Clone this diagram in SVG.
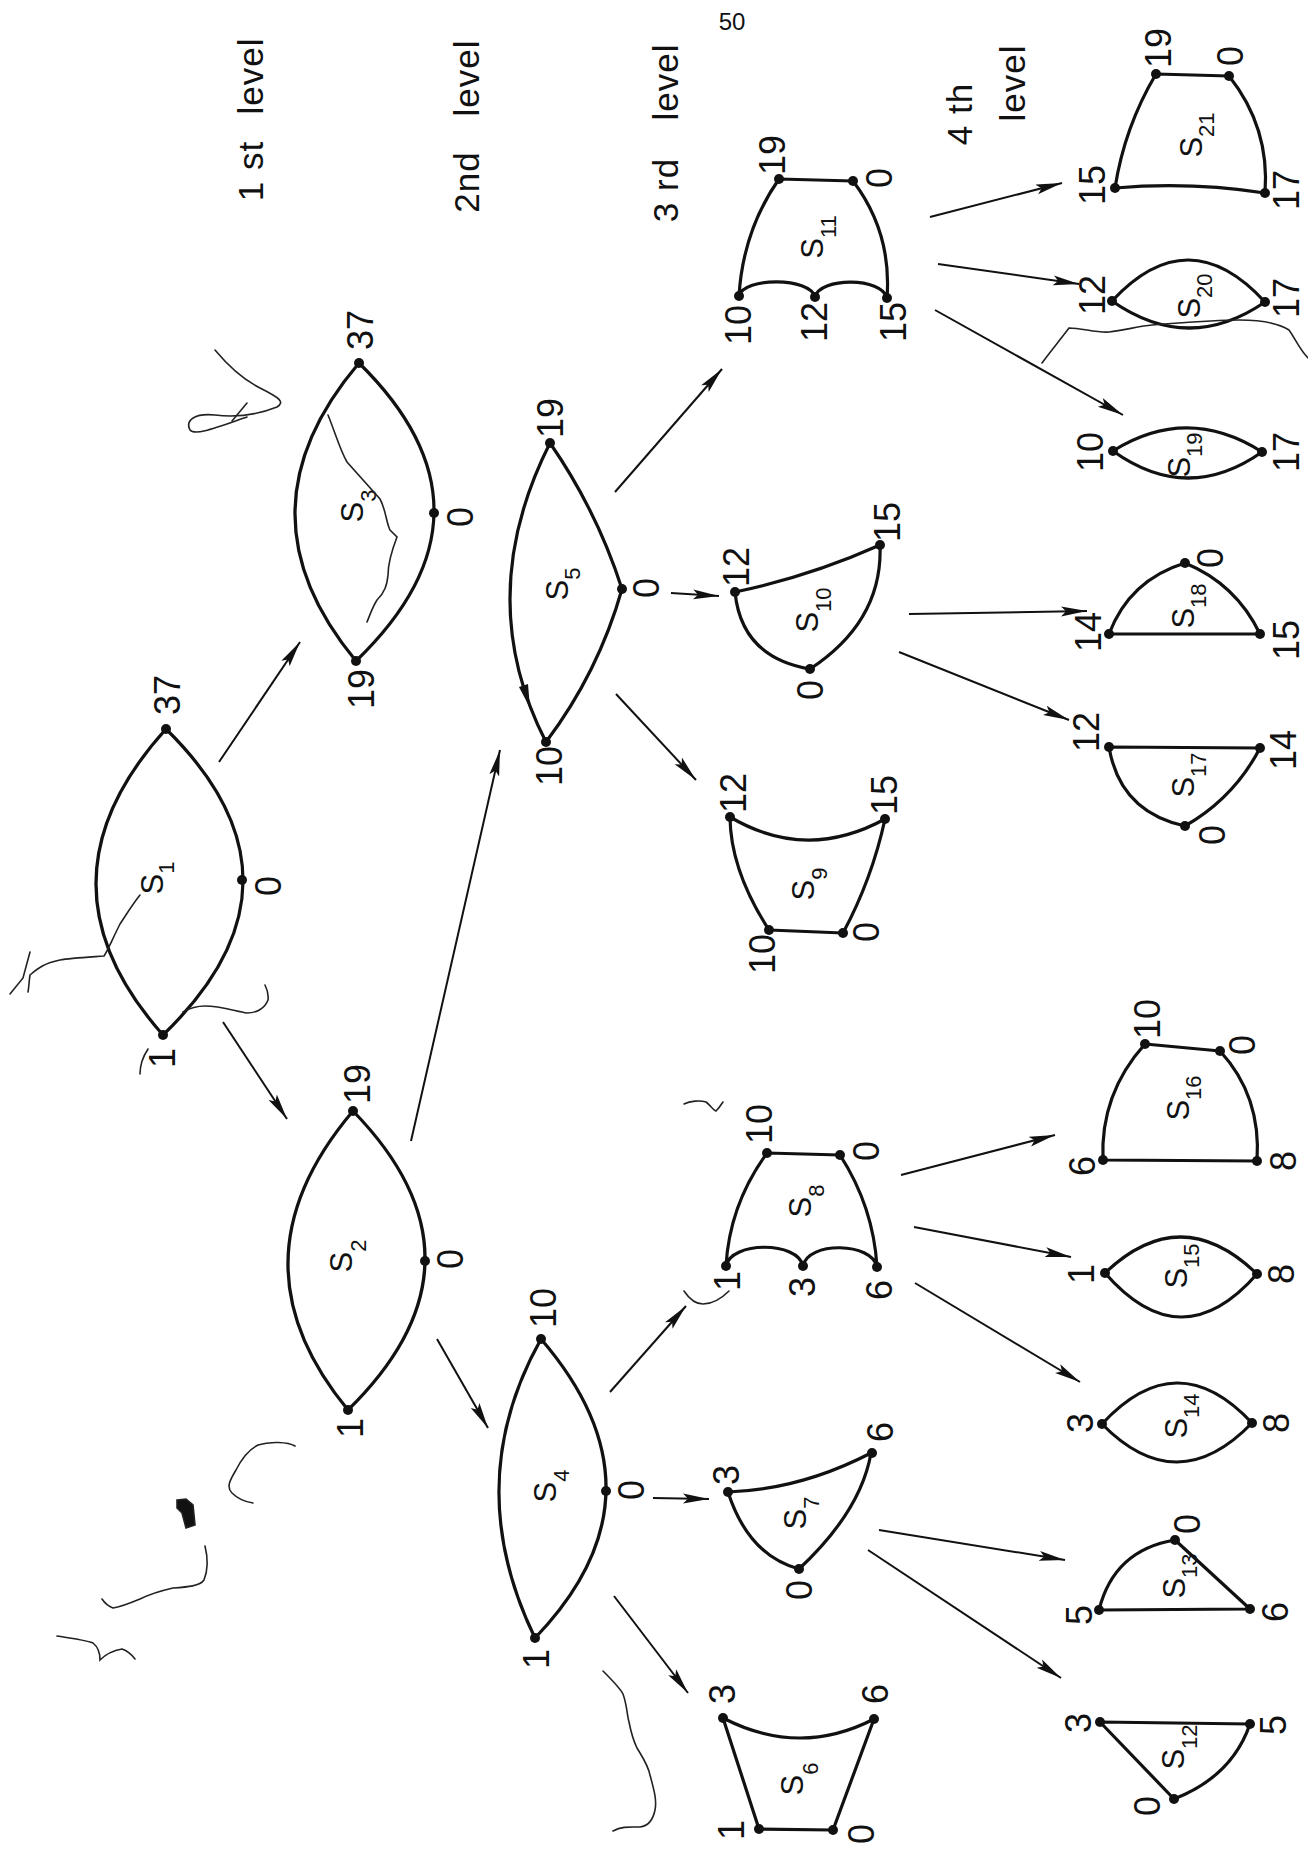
<svg xmlns="http://www.w3.org/2000/svg" width="1308" height="1849" viewBox="0 0 1308 1849">
<style>
.e{fill:none;stroke:#111;stroke-width:3.2;stroke-linejoin:round;stroke-linecap:round}
.v{fill:#111}
.c line{stroke:#111;stroke-width:2}
text{font-family:"Liberation Sans",Arial,sans-serif;fill:#111}
.n{font-size:36px;text-anchor:middle}
.s{font-size:31px;text-anchor:middle}
.s tspan{font-size:22px}
.lv{font-size:35px;text-anchor:middle;letter-spacing:1px}
.m{fill:none;stroke:#222;stroke-width:1.6;stroke-linecap:round}
</style>
<defs>
<marker id="arr" markerUnits="userSpaceOnUse" markerWidth="28" markerHeight="12" refX="26" refY="6" orient="auto">
<path d="M0,1 L26,6 L0,11 L5,6 Z" fill="#111"/>
</marker>
</defs>
<rect width="1308" height="1849" fill="#fff"/>

<!-- page number and level headings -->
<text x="732" y="30" font-size="24" text-anchor="middle">50</text>
<g id="levels">
<text class="lv" transform="translate(263,171) rotate(-90)">1 st</text>
<text class="lv" transform="translate(263,76) rotate(-90)">level</text>
<text class="lv" transform="translate(479,182) rotate(-90)">2nd</text>
<text class="lv" transform="translate(479,78) rotate(-90)">level</text>
<text class="lv" transform="translate(678,190) rotate(-90)">3 rd</text>
<text class="lv" transform="translate(678,82) rotate(-90)">level</text>
<text class="lv" transform="translate(972,114) rotate(-90)">4 th</text>
<text class="lv" transform="translate(1025,83) rotate(-90)">level</text>
</g>

<!-- connectors -->
<g id="connectors" class="c">
<line x1="219" y1="762" x2="300" y2="642" marker-end="url(#arr)"/>
<line x1="223" y1="1022" x2="287" y2="1119" marker-end="url(#arr)"/>
<line x1="411" y1="1141" x2="500" y2="750" marker-end="url(#arr)"/>
<line x1="437" y1="1339" x2="488" y2="1428" marker-end="url(#arr)"/>
<line x1="615" y1="492" x2="722" y2="369" marker-end="url(#arr)"/>
<line x1="671" y1="593" x2="719" y2="596" marker-end="url(#arr)"/>
<line x1="616" y1="694" x2="696" y2="780" marker-end="url(#arr)"/>
<line x1="610" y1="1392" x2="686" y2="1306" marker-end="url(#arr)"/>
<line x1="653" y1="1498" x2="709" y2="1499" marker-end="url(#arr)"/>
<line x1="614" y1="1596" x2="688" y2="1693" marker-end="url(#arr)"/>
<line x1="930" y1="217" x2="1062" y2="183" marker-end="url(#arr)"/>
<line x1="938" y1="264" x2="1079" y2="284" marker-end="url(#arr)"/>
<line x1="935" y1="310" x2="1123" y2="415" marker-end="url(#arr)"/>
<line x1="909" y1="614" x2="1087" y2="611" marker-end="url(#arr)"/>
<line x1="899" y1="652" x2="1069" y2="720" marker-end="url(#arr)"/>
<line x1="901" y1="1175" x2="1055" y2="1135" marker-end="url(#arr)"/>
<line x1="914" y1="1227" x2="1071" y2="1257" marker-end="url(#arr)"/>
<line x1="915" y1="1283" x2="1080" y2="1382" marker-end="url(#arr)"/>
<line x1="879" y1="1530" x2="1065" y2="1560" marker-end="url(#arr)"/>
<line x1="868" y1="1550" x2="1061" y2="1678" marker-end="url(#arr)"/>
</g>

<!-- first level -->
<g id="S1">
<path class="e" d="M166,729 Q27.5,882 163,1035 Q321.5,882 166,729 Z"/>
<circle class="v" cx="166" cy="729" r="5"/><circle class="v" cx="242" cy="880" r="5"/><circle class="v" cx="163" cy="1035" r="5"/>
<text class="n" transform="translate(180,695) rotate(-90)">37</text>
<text class="n" transform="translate(281,886) rotate(-90)">0</text>
<text class="n" transform="translate(175,1058) rotate(-90)">1</text>
<text class="s" transform="translate(163,878) rotate(-90)">S<tspan dy="11">1</tspan></text>
</g>

<!-- second level -->
<g id="S2">
<path class="e" d="M353,1111 Q225.5,1261.5 348,1410 Q499.5,1261.5 353,1111 Z"/>
<circle class="v" cx="353" cy="1111" r="5"/><circle class="v" cx="425" cy="1261" r="5"/><circle class="v" cx="348" cy="1410" r="5"/>
<text class="n" transform="translate(370,1084) rotate(-90)">19</text>
<text class="n" transform="translate(463,1259) rotate(-90)">0</text>
<text class="n" transform="translate(363,1428) rotate(-90)">1</text>
<text class="s" transform="translate(352,1256) rotate(-90)">S<tspan dy="14">2</tspan></text>
</g>
<g id="S3">
<path class="e" d="M359,363 Q232.5,512 356,661 Q510.5,512 359,363 Z"/>
<circle class="v" cx="359" cy="363" r="5"/><circle class="v" cx="434" cy="513" r="5"/><circle class="v" cx="356" cy="661" r="5"/>
<text class="n" transform="translate(373,330) rotate(-90)">37</text>
<text class="n" transform="translate(473,517) rotate(-90)">0</text>
<text class="n" transform="translate(374,689) rotate(-90)">19</text>
<text class="s" transform="translate(363,506) rotate(-90)">S<tspan dy="13">3</tspan></text>
</g>

<!-- third level -->
<g id="S4">
<path class="e" d="M541,1339 Q460,1483.5 535,1638 Q674,1493.5 541,1339 Z"/>
<circle class="v" cx="541" cy="1339" r="5"/><circle class="v" cx="606" cy="1491" r="5"/><circle class="v" cx="535" cy="1638" r="5"/>
<text class="n" transform="translate(556,1308) rotate(-90)">10</text>
<text class="n" transform="translate(644,1490) rotate(-90)">0</text>
<text class="n" transform="translate(549,1659) rotate(-90)">1</text>
<text class="s" transform="translate(556,1486) rotate(-90)">S<tspan dy="13">4</tspan></text>
</g>
<g id="S5">
<path class="e" d="M550,443 Q472,597.5 546,742 Q598.4,672.5 622,589 Q596.8,510.6 550,443 Z"/>
<path class="v" d="M530,708 L519,687 L528,684 Z"/>
<circle class="v" cx="550" cy="443" r="5"/><circle class="v" cx="622" cy="589" r="5"/><circle class="v" cx="546" cy="742" r="5"/>
<text class="n" transform="translate(563,418) rotate(-90)">19</text>
<text class="n" transform="translate(659,588) rotate(-90)">0</text>
<text class="n" transform="translate(562,766) rotate(-90)">10</text>
<text class="s" transform="translate(568,584) rotate(-90)">S<tspan dy="12">5</tspan></text>
</g>

<!-- fourth level, lower branch -->
<g id="S6">
<path class="e" d="M723,1718 Q799.5,1757.5 874,1719 L833,1830 L759,1829 Z"/>
<circle class="v" cx="723" cy="1718" r="5"/><circle class="v" cx="874" cy="1719" r="5"/><circle class="v" cx="833" cy="1830" r="5"/><circle class="v" cx="759" cy="1829" r="5"/>
<text class="n" transform="translate(735,1694) rotate(-90)">3</text>
<text class="n" transform="translate(888,1694) rotate(-90)">6</text>
<text class="n" transform="translate(744,1830) rotate(-90)">1</text>
<text class="n" transform="translate(874,1834) rotate(-90)">0</text>
<text class="s" transform="translate(803,1779) rotate(-90)">S<tspan dy="15">6</tspan></text>
</g>
<g id="S7">
<path class="e" d="M728,1492 Q800.5,1489.5 871,1453 Q861,1511 799,1569 Q748.5,1555.5 728,1492 Z"/>
<circle class="v" cx="728" cy="1492" r="5"/><circle class="v" cx="872" cy="1453" r="5"/><circle class="v" cx="799" cy="1569" r="5"/>
<text class="n" transform="translate(739,1475) rotate(-90)">3</text>
<text class="n" transform="translate(893,1432) rotate(-90)">6</text>
<text class="n" transform="translate(812,1590) rotate(-90)">0</text>
<text class="s" transform="translate(806,1513) rotate(-90)">S<tspan dy="13">7</tspan></text>
</g>
<g id="S8">
<path class="e" d="M767,1153 L840,1155 Q873.5,1207 877,1267 C872,1242 808,1241 803,1266 C798,1241 731,1241 726,1266 Q729.5,1204.5 767,1153 Z"/>
<circle class="v" cx="767" cy="1153" r="5"/><circle class="v" cx="840" cy="1155" r="5"/><circle class="v" cx="877" cy="1267" r="5"/><circle class="v" cx="803" cy="1266" r="5"/><circle class="v" cx="726" cy="1266" r="5"/>
<text class="n" transform="translate(772,1124) rotate(-90)">10</text>
<text class="n" transform="translate(879,1151) rotate(-90)">0</text>
<text class="n" transform="translate(740,1281) rotate(-90)">1</text>
<text class="n" transform="translate(815,1287) rotate(-90)">3</text>
<text class="n" transform="translate(892,1290) rotate(-90)">6</text>
<text class="s" transform="translate(811,1201) rotate(-90)">S<tspan dy="13">8</tspan></text>
</g>

<!-- fourth level, upper branch -->
<g id="S9">
<path class="e" d="M730,817 Q806.5,862 885,819 Q872,879 843,933 L769,930 Q730.5,870.5 730,817 Z"/>
<circle class="v" cx="730" cy="817" r="5"/><circle class="v" cx="885" cy="819" r="5"/><circle class="v" cx="843" cy="933" r="5"/><circle class="v" cx="769" cy="930" r="5"/>
<text class="n" transform="translate(746,793) rotate(-90)">12</text>
<text class="n" transform="translate(897,795) rotate(-90)">15</text>
<text class="n" transform="translate(775,954) rotate(-90)">10</text>
<text class="n" transform="translate(879,932) rotate(-90)">0</text>
<text class="s" transform="translate(814,884) rotate(-90)">S<tspan dy="13">9</tspan></text>
</g>
<g id="S10">
<path class="e" d="M735,592 Q809.5,576.5 880,545 Q883,621 810,669 Q741.5,657.5 735,592 Z"/>
<circle class="v" cx="735" cy="592" r="5"/><circle class="v" cx="880" cy="545" r="5"/><circle class="v" cx="810" cy="669" r="5"/>
<text class="n" transform="translate(749,567) rotate(-90)">12</text>
<text class="n" transform="translate(900,522) rotate(-90)">15</text>
<text class="n" transform="translate(823,690) rotate(-90)">0</text>
<text class="s" transform="translate(818,610) rotate(-90)">S<tspan dy="13">10</tspan></text>
</g>
<g id="S11">
<path class="e" d="M779,179 L853,181 Q892,232.5 887,298 C882,277 820,277 815,297 C810,277 744,277 739,296 Q743,230.5 779,179 Z"/>
<circle class="v" cx="779" cy="179" r="5"/><circle class="v" cx="853" cy="181" r="5"/><circle class="v" cx="887" cy="298" r="5"/><circle class="v" cx="815" cy="297" r="5"/><circle class="v" cx="739" cy="296" r="5"/>
<text class="n" transform="translate(785,155) rotate(-90)">19</text>
<text class="n" transform="translate(892,178) rotate(-90)">0</text>
<text class="n" transform="translate(751,325) rotate(-90)">10</text>
<text class="n" transform="translate(827,322) rotate(-90)">12</text>
<text class="n" transform="translate(906,322) rotate(-90)">15</text>
<text class="s" transform="translate(823,237) rotate(-90)">S<tspan dy="13">11</tspan></text>
</g>

<!-- fifth column -->
<g id="S12">
<path class="e" d="M1100,1722 L1250,1724 Q1232,1776.5 1174,1799 Z"/>
<circle class="v" cx="1100" cy="1722" r="5"/><circle class="v" cx="1250" cy="1724" r="5"/><circle class="v" cx="1174" cy="1799" r="5"/>
<text class="n" transform="translate(1091,1723) rotate(-90)">3</text>
<text class="n" transform="translate(1286,1725) rotate(-90)">5</text>
<text class="n" transform="translate(1160,1806) rotate(-90)">0</text>
<text class="s" transform="translate(1184,1747) rotate(-90)">S<tspan dy="13">12</tspan></text>
</g>
<g id="S13">
<path class="e" d="M1099,1610 L1250,1609 L1175,1540 Q1114,1550 1099,1610 Z"/>
<circle class="v" cx="1099" cy="1610" r="5"/><circle class="v" cx="1250" cy="1609" r="5"/><circle class="v" cx="1175" cy="1540" r="5"/>
<text class="n" transform="translate(1092,1615) rotate(-90)">5</text>
<text class="n" transform="translate(1288,1612) rotate(-90)">6</text>
<text class="n" transform="translate(1200,1524) rotate(-90)">0</text>
<text class="s" transform="translate(1185,1576) rotate(-90)">S<tspan dy="12">13</tspan></text>
</g>
<g id="S14">
<path class="e" d="M1102,1424 Q1177,1342.5 1252,1423 Q1177,1500.5 1102,1424 Z"/>
<circle class="v" cx="1102" cy="1424" r="5"/><circle class="v" cx="1252" cy="1423" r="5"/>
<text class="n" transform="translate(1093,1423) rotate(-90)">3</text>
<text class="n" transform="translate(1289,1423) rotate(-90)">8</text>
<text class="s" transform="translate(1187,1416) rotate(-90)">S<tspan dy="12">14</tspan></text>
</g>
<g id="S15">
<path class="e" d="M1105,1273 Q1181,1200.5 1257,1274 Q1181,1360.5 1105,1273 Z"/>
<circle class="v" cx="1105" cy="1273" r="5"/><circle class="v" cx="1257" cy="1274" r="5"/>
<text class="n" transform="translate(1094,1274) rotate(-90)">1</text>
<text class="n" transform="translate(1294,1274) rotate(-90)">8</text>
<text class="s" transform="translate(1187,1266) rotate(-90)">S<tspan dy="12">15</tspan></text>
</g>
<g id="S16">
<path class="e" d="M1103,1160 L1257,1161 Q1261.5,1096 1220,1051 L1145,1044 Q1100,1094 1103,1160 Z"/>
<circle class="v" cx="1103" cy="1160" r="5"/><circle class="v" cx="1257" cy="1161" r="5"/><circle class="v" cx="1220" cy="1051" r="5"/><circle class="v" cx="1145" cy="1044" r="5"/>
<text class="n" transform="translate(1095,1166) rotate(-90)">6</text>
<text class="n" transform="translate(1296,1161) rotate(-90)">8</text>
<text class="n" transform="translate(1160,1019) rotate(-90)">10</text>
<text class="n" transform="translate(1255,1045) rotate(-90)">0</text>
<text class="s" transform="translate(1189,1098) rotate(-90)">S<tspan dy="12">16</tspan></text>
</g>
<g id="S17">
<path class="e" d="M1109,747 L1260,748 Q1234,798 1185,826 Q1120,812 1109,747 Z"/>
<circle class="v" cx="1109" cy="747" r="5"/><circle class="v" cx="1260" cy="748" r="5"/><circle class="v" cx="1185" cy="826" r="5"/>
<text class="n" transform="translate(1099,732) rotate(-90)">12</text>
<text class="n" transform="translate(1296,750) rotate(-90)">14</text>
<text class="n" transform="translate(1225,835) rotate(-90)">0</text>
<text class="s" transform="translate(1194,775) rotate(-90)">S<tspan dy="12">17</tspan></text>
</g>
<g id="S18">
<path class="e" d="M1109,634 L1260,634 Q1236,584 1185,563 Q1129.6,579.9 1109,634 Z"/>
<circle class="v" cx="1109" cy="634" r="5"/><circle class="v" cx="1260" cy="634" r="5"/><circle class="v" cx="1185" cy="563" r="5"/>
<text class="n" transform="translate(1101,632) rotate(-90)">14</text>
<text class="n" transform="translate(1299,640) rotate(-90)">15</text>
<text class="n" transform="translate(1223,558) rotate(-90)">0</text>
<text class="s" transform="translate(1194,606) rotate(-90)">S<tspan dy="12">18</tspan></text>
</g>
<g id="S19">
<path class="e" d="M1113,451 Q1187.5,404.5 1262,452 Q1187.5,504.5 1113,451 Z"/>
<circle class="v" cx="1113" cy="451" r="5"/><circle class="v" cx="1262" cy="452" r="5"/>
<text class="n" transform="translate(1103,452) rotate(-90)">10</text>
<text class="n" transform="translate(1299,452) rotate(-90)">17</text>
<text class="s" transform="translate(1190,455) rotate(-90)">S<tspan dy="12">19</tspan></text>
</g>
<g id="S20">
<path class="e" d="M1112,301 Q1188.5,218.5 1265,302 Q1188.5,354.5 1112,301 Z"/>
<circle class="v" cx="1112" cy="301" r="5"/><circle class="v" cx="1265" cy="302" r="5"/>
<text class="n" transform="translate(1105,295) rotate(-90)">12</text>
<text class="n" transform="translate(1299,298) rotate(-90)">17</text>
<text class="s" transform="translate(1200,296) rotate(-90)">S<tspan dy="12">20</tspan></text>
</g>
<g id="S21">
<path class="e" d="M1156,74 L1229,76 Q1270,127.5 1265,193 Q1190,181.5 1115,188 Q1124.5,127 1156,74 Z"/>
<circle class="v" cx="1156" cy="74" r="5"/><circle class="v" cx="1229" cy="76" r="5"/><circle class="v" cx="1265" cy="193" r="5"/><circle class="v" cx="1115" cy="188" r="5"/>
<text class="n" transform="translate(1171,48) rotate(-90)">19</text>
<text class="n" transform="translate(1243,56) rotate(-90)">0</text>
<text class="n" transform="translate(1105,185) rotate(-90)">15</text>
<text class="n" transform="translate(1299,190) rotate(-90)">17</text>
<text class="s" transform="translate(1202,135) rotate(-90)">S<tspan dy="12">21</tspan></text>
</g>

<!-- stray pen strokes on the sheet -->
<g id="pen-marks" class="m">
<path d="M215,350 C225,362 240,378 260,388 S285,402 277,407 C262,413 240,418 215,415 C195,413 185,420 190,430 C195,436 215,428 247,417"/>
<path d="M247,403 L232,421"/>
<path d="M328,415 C335,432 340,450 347,462 L380,499 C386,510 386,522 390,530 L397,537 C392,550 388,565 388,575 C387,585 385,592 377,600 C372,608 370,615 367,622"/>
<path d="M140,895 C132,905 126,915 120,924 C112,940 108,950 104,956 C90,957 70,958 60,960 C45,963 38,968 30,975 C29,981 29,987 28,992"/>
<path d="M10,994 L23,978 L30,952"/>
<path d="M183,1012 C190,1008 196,1006 205,1006 C220,1006 235,1011 247,1013 C257,1013 265,1008 268,1000 C269,993 267,989 265,985"/>
<path d="M148,1049 C142,1058 140,1066 140,1074"/>
<path d="M295,1446 C288,1442 270,1441 258,1445 C248,1450 241,1460 236,1470 C230,1480 226,1487 232,1493 C238,1499 246,1502 253,1503"/>
<path d="M205,1546 C208,1558 208,1570 204,1580 C200,1586 188,1587 173,1588 C160,1591 150,1594 140,1599 C128,1604 120,1607 113,1608 C108,1606 104,1602 102,1599"/>
<path d="M57,1636 C70,1638 85,1640 93,1643 C98,1647 100,1652 100,1660 C104,1656 110,1651 122,1649 C128,1651 132,1655 135,1659"/>
<path d="M603,1671 C612,1680 620,1688 623,1694 C627,1705 627,1715 629,1722 C631,1732 633,1740 637,1748 C643,1758 648,1765 650,1775 C654,1790 657,1800 655,1810 C653,1820 648,1826 640,1827 C630,1827 622,1826 613,1831"/>
<path d="M1042,363 C1050,352 1060,340 1069,328 C1082,328 1096,333 1109,332 C1125,330 1140,326 1152,325 C1180,323 1210,320 1239,320 C1260,320 1276,322 1289,330 C1296,340 1300,350 1308,358"/>
<path d="M684,1291 C690,1300 697,1304 703,1304 C712,1304 722,1298 729,1291"/>
<path d="M684,1104 C690,1101 700,1100 706,1102 C710,1105 713,1110 716,1111 C719,1108 721,1105 723,1102"/>
<path d="M177,1500 L186,1499 L193,1505 L195,1525 L186,1528 L182,1513 L177,1508 Z" fill="#111"/>
</g>
</svg>
